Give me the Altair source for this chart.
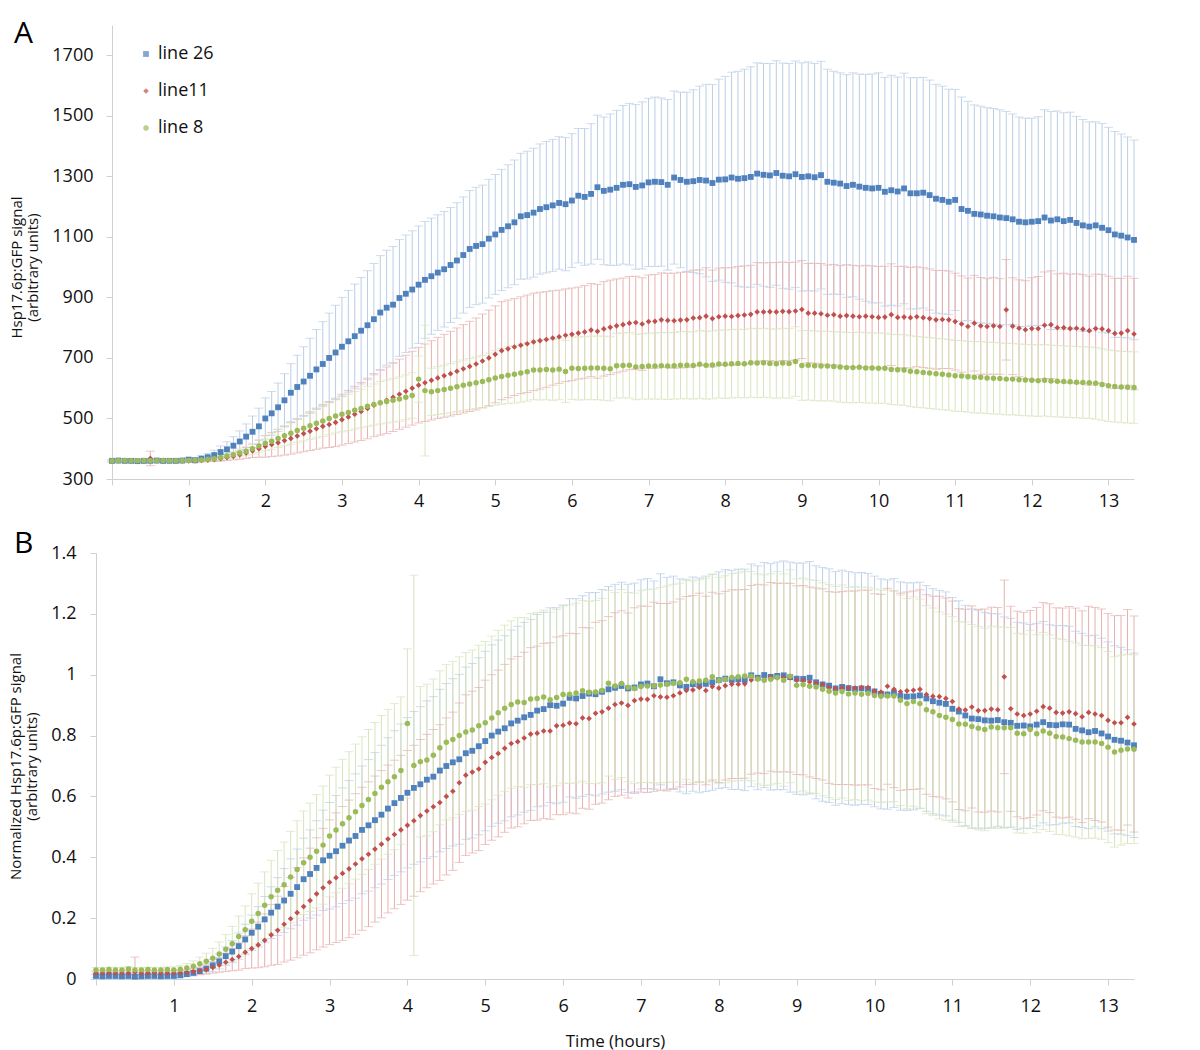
import altair as alt
import pandas as pd

SERIES = ["line 26", "line11", "line 8"]
POINT_COLORS = ["#4F81BD", "#C0504D", "#9BBB59"]
ERR_COLORS = ["#b9cde5", "#e6b0ae", "#d7e4bd"]
SHAPES = ["square", "diamond", "circle"]
SIZES = [34, 30, 34]

N_POINTS = 161
T_MAX = 160 / 12
TIME = [i / 12 for i in range(N_POINTS)]  # 5-minute sampling, hours

# ---------------- Panel A : raw signal ----------------
A_BLUE = [
    360, 361, 360, 360, 359, 360, 360, 361, 360, 360, 360, 361,
    364, 362, 367, 372, 379, 389, 398, 410, 424, 440, 456, 474,
    500, 517, 537, 560, 585, 604, 622, 641, 662, 680, 700, 718,
    737, 755, 772, 790, 808, 828, 850, 866, 876, 898, 912, 926,
    942, 958, 970, 982, 993, 1007, 1022, 1040, 1060, 1070, 1076, 1094,
    1108, 1123, 1135, 1148, 1168, 1172, 1180, 1192, 1198, 1204, 1212, 1208,
    1220, 1236, 1232, 1242, 1264, 1252, 1256, 1262, 1272, 1274, 1265, 1270,
    1280, 1282, 1281, 1272, 1296, 1288, 1282, 1284, 1288, 1286, 1278, 1289,
    1290, 1296, 1292, 1294, 1298, 1309, 1305, 1303, 1311, 1302, 1300, 1307,
    1298, 1300, 1297, 1304, 1282, 1279, 1276, 1268, 1272, 1266, 1262, 1260,
    1262, 1249, 1254, 1250, 1260, 1244, 1244, 1246, 1238, 1226, 1222, 1216,
    1222, 1192, 1186, 1176, 1174, 1170, 1168, 1164, 1162, 1158, 1150, 1148,
    1150, 1152, 1164, 1154, 1158, 1152, 1156, 1146, 1138, 1134, 1138, 1130,
    1122, 1108, 1104, 1098, 1090,
]
A_RED = [
    360, 360, 361, 360, 360, 360, 368, 360, 360, 361, 360, 360,
    360, 360, 361, 362, 364, 367, 371, 375, 380, 386, 393, 400,
    408, 414, 420, 427, 434, 442, 450, 458, 466, 474, 480, 487,
    496, 505, 514, 523, 533, 544, 552, 560, 570, 580, 590, 600,
    610, 618, 626, 634, 641, 648, 656, 664, 672, 680, 690, 700,
    712, 724, 730, 736, 742, 747, 753, 757, 761, 766, 770, 775,
    778, 782, 786, 792, 788, 796, 801, 806, 810, 815, 817, 812,
    820, 821, 826, 824, 823, 825, 826, 832, 833, 838, 830, 836,
    838, 837, 840, 842, 844, 852, 852, 853, 852, 854, 853, 855,
    860, 848, 848, 846, 841, 843, 838, 840, 838, 836, 838, 836,
    834, 835, 843, 834, 835, 833, 836, 833, 830, 826, 827, 826,
    820, 812, 804, 815, 806, 804, 806, 804, 859, 805, 798, 793,
    797, 797, 808, 810, 800, 800, 797, 798, 795, 790, 797, 796,
    790, 781, 782, 790, 779,
]
A_GREEN = [
    360, 360, 361, 360, 360, 361, 360, 360, 361, 360, 360, 361,
    361, 362, 363, 365, 367, 371, 376, 380, 386, 392, 400, 409,
    418, 425, 434, 443, 451, 460, 468, 476, 484, 492, 500, 508,
    514, 520, 527, 533, 540, 546, 552, 556, 560, 564, 570, 576,
    630, 592, 588, 592, 596, 600, 605, 610, 614, 618, 622, 628,
    634, 639, 643, 646, 650, 654, 660, 660, 662, 660, 663, 655,
    666, 665, 666, 667, 667, 666, 664, 674, 675, 676, 670, 672,
    673, 673, 674, 673, 674, 676, 676, 675, 679, 676, 677, 680,
    679, 681, 682, 681, 684, 683, 684, 682, 681, 683, 682, 688,
    675, 676, 674, 673, 673, 672, 670, 668, 668, 669, 667, 667,
    666, 666, 662, 661, 660, 656, 654, 652, 650, 648, 646, 644,
    641, 640, 638, 636, 636, 634, 633, 632, 630, 630, 628, 627,
    626, 625, 626, 624, 623, 622, 621, 620, 619, 618, 616, 612,
    608, 606, 604, 603, 602,
]
A_BLUE_SD = [
    4, 4, 4, 5, 4, 4, 5, 4, 4, 4, 5, 4,
    6, 8, 10, 12, 16, 20, 25, 30, 35, 42, 52, 60,
    68, 72, 80, 88, 96, 105, 115, 124, 132, 140, 148, 156,
    163, 168, 172, 176, 180, 184, 188, 190, 192, 193, 194, 194,
    194, 193, 192, 191, 191, 190, 191, 192, 193, 194, 195, 196,
    198, 200, 203, 206, 208, 211, 213, 215, 217, 218, 219, 220,
    221, 222, 226, 232, 238, 244, 250, 256, 262, 267, 272, 276,
    278, 280, 278, 282, 286, 290, 296, 302, 310, 318, 325, 332,
    340, 348, 355, 360, 364, 366, 368, 370, 371, 372, 373, 374,
    377, 378, 376, 376, 372, 368, 366, 368, 370, 372, 375, 378,
    380, 378, 380, 378, 381, 382, 382, 381, 380, 378, 376, 372,
    365, 370, 362, 360, 358, 357, 356, 356, 352, 348, 346, 344,
    342, 345, 356, 360, 358, 358, 356, 352, 350, 346, 342, 345,
    340, 340, 336, 332, 330,
]
A_RED_SD = [
    3, 3, 3, 4, 3, 3, 24, 3, 3, 3, 3, 3,
    3, 3, 4, 5, 6, 8, 10, 12, 15, 18, 22, 28,
    36, 40, 44, 48, 52, 56, 60, 64, 68, 72, 76, 80,
    84, 88, 92, 96, 100, 104, 107, 110, 113, 116, 119, 122,
    125, 128, 131, 134, 137, 140, 143, 146, 149, 152, 155, 158,
    160, 162, 161, 160, 160, 161, 161, 160, 158, 156, 154, 153,
    153, 152, 153, 154, 155, 156, 156, 155, 154, 154, 153, 153,
    154, 155, 155, 156, 157, 158, 158, 158, 158, 160, 160, 161,
    160, 161, 162, 162, 162, 163, 162, 162, 163, 163, 162, 162,
    162, 164, 165, 166, 166, 166, 167, 168, 168, 168, 168, 168,
    168, 168, 168, 168, 168, 166, 165, 165, 164, 163, 162, 161,
    160, 159, 160, 158, 160, 158, 160, 158, 166, 160, 160, 162,
    168, 172, 176, 178, 178, 180, 180, 180, 180, 180, 180, 180,
    180, 182, 181, 180, 184,
]
A_GREEN_SD = [
    3, 3, 3, 3, 3, 3, 3, 3, 3, 3, 3, 3,
    3, 4, 4, 5, 6, 7, 9, 11, 13, 15, 18, 21,
    24, 27, 30, 33, 36, 39, 42, 45, 48, 51, 54, 56,
    58, 60, 62, 64, 66, 68, 70, 71, 72, 73, 74, 75,
    76, 216, 78, 79, 80, 81, 82, 83, 84, 85, 86, 88,
    90, 92, 94, 95, 96, 97, 98, 99, 100, 100, 101, 102,
    103, 104, 104, 105, 105, 106, 106, 107, 107, 108, 108, 108,
    109, 109, 110, 110, 110, 111, 111, 111, 112, 112, 112, 112,
    113, 113, 113, 113, 114, 114, 114, 114, 114, 115, 115, 115,
    115, 115, 115, 115, 115, 115, 116, 116, 116, 116, 116, 116,
    116, 116, 116, 116, 117, 117, 117, 117, 117, 117, 117, 117,
    117, 117, 117, 118, 118, 118, 118, 118, 118, 118, 118, 118,
    118, 118, 118, 118, 118, 118, 118, 118, 118, 118, 118, 118,
    118, 118, 118, 118, 118,
]

# ---------------- Panel B : normalized signal ----------------
B_BLUE = [
    0.010, 0.009, 0.010, 0.010, 0.009, 0.010, 0.008, 0.009, 0.010, 0.010, 0.009, 0.010,
    0.010, 0.012, 0.016, 0.020, 0.026, 0.034, 0.045, 0.058, 0.075, 0.090, 0.108, 0.130,
    0.152, 0.172, 0.196, 0.218, 0.238, 0.258, 0.280, 0.302, 0.328, 0.345, 0.365, 0.390,
    0.405, 0.420, 0.438, 0.455, 0.470, 0.490, 0.505, 0.522, 0.540, 0.560, 0.578, 0.595,
    0.612, 0.628, 0.640, 0.655, 0.665, 0.685, 0.700, 0.712, 0.722, 0.742, 0.750, 0.765,
    0.782, 0.800, 0.813, 0.824, 0.840, 0.849, 0.860, 0.868, 0.882, 0.887, 0.900, 0.898,
    0.905, 0.924, 0.922, 0.930, 0.938, 0.936, 0.944, 0.952, 0.957, 0.963, 0.955, 0.958,
    0.968, 0.971, 0.962, 0.985, 0.972, 0.975, 0.965, 0.960, 0.969, 0.965, 0.970, 0.975,
    0.982, 0.987, 0.983, 0.985, 0.983, 0.998, 0.990, 0.999, 0.993, 0.996, 0.998, 0.992,
    0.987, 0.986, 0.990, 0.975, 0.968, 0.964, 0.955, 0.960, 0.956, 0.953, 0.955, 0.953,
    0.945, 0.937, 0.935, 0.940, 0.930, 0.928, 0.929, 0.932, 0.922, 0.913, 0.908, 0.904,
    0.888, 0.879, 0.866, 0.856, 0.854, 0.850, 0.849, 0.851, 0.844, 0.842, 0.832, 0.833,
    0.830, 0.836, 0.844, 0.835, 0.834, 0.837, 0.836, 0.822, 0.817, 0.811, 0.815, 0.807,
    0.797, 0.786, 0.783, 0.777, 0.768,
]
B_RED = [
    0.020, 0.020, 0.021, 0.020, 0.020, 0.020, 0.022, 0.020, 0.020, 0.021, 0.020, 0.020,
    0.020, 0.021, 0.022, 0.024, 0.027, 0.031, 0.038, 0.046, 0.055, 0.064, 0.074, 0.088,
    0.100, 0.112, 0.127, 0.145, 0.160, 0.180, 0.198, 0.218, 0.238, 0.258, 0.280, 0.300,
    0.318, 0.333, 0.347, 0.362, 0.378, 0.395, 0.410, 0.427, 0.443, 0.460, 0.475, 0.490,
    0.505, 0.520, 0.537, 0.552, 0.566, 0.580, 0.600, 0.617, 0.645, 0.670, 0.680, 0.690,
    0.712, 0.728, 0.741, 0.758, 0.774, 0.780, 0.792, 0.805, 0.808, 0.815, 0.815, 0.832,
    0.834, 0.841, 0.839, 0.858, 0.856, 0.873, 0.878, 0.890, 0.902, 0.907, 0.899, 0.915,
    0.920, 0.919, 0.931, 0.927, 0.926, 0.931, 0.940, 0.948, 0.950, 0.958, 0.948, 0.961,
    0.956, 0.964, 0.969, 0.969, 0.970, 0.983, 0.987, 0.985, 0.993, 0.990, 0.991, 0.990,
    0.982, 0.982, 0.976, 0.972, 0.968, 0.958, 0.955, 0.956, 0.957, 0.956, 0.958, 0.958,
    0.946, 0.943, 0.962, 0.952, 0.944, 0.947, 0.949, 0.952, 0.935, 0.929, 0.928, 0.922,
    0.912, 0.887, 0.884, 0.894, 0.882, 0.882, 0.887, 0.885, 0.993, 0.888, 0.871, 0.866,
    0.871, 0.880, 0.895, 0.890, 0.876, 0.874, 0.878, 0.872, 0.862, 0.876, 0.871, 0.866,
    0.850, 0.842, 0.842, 0.860, 0.838,
]
B_GREEN = [
    0.030, 0.030, 0.031, 0.030, 0.030, 0.033, 0.030, 0.030, 0.031, 0.030, 0.030, 0.031,
    0.030, 0.032, 0.036, 0.042, 0.050, 0.058, 0.068, 0.082, 0.098, 0.116, 0.140, 0.162,
    0.190, 0.215, 0.242, 0.270, 0.292, 0.310, 0.335, 0.360, 0.382, 0.400, 0.420, 0.440,
    0.470, 0.490, 0.510, 0.530, 0.550, 0.570, 0.590, 0.610, 0.630, 0.648, 0.665, 0.685,
    0.840, 0.702, 0.714, 0.720, 0.735, 0.760, 0.778, 0.787, 0.800, 0.812, 0.818, 0.832,
    0.842, 0.858, 0.875, 0.890, 0.902, 0.910, 0.909, 0.920, 0.922, 0.927, 0.918, 0.925,
    0.935, 0.936, 0.940, 0.947, 0.942, 0.943, 0.948, 0.972, 0.963, 0.971, 0.959, 0.955,
    0.961, 0.963, 0.963, 0.966, 0.969, 0.972, 0.974, 0.985, 0.977, 0.979, 0.982, 0.993,
    0.981, 0.985, 0.991, 0.993, 0.996, 0.995, 0.986, 0.982, 0.985, 0.991, 0.982, 0.995,
    0.965, 0.968, 0.962, 0.960, 0.952, 0.946, 0.940, 0.945, 0.937, 0.940, 0.936, 0.938,
    0.932, 0.929, 0.930, 0.930, 0.916, 0.905, 0.912, 0.905, 0.885, 0.878, 0.866, 0.860,
    0.853, 0.838, 0.837, 0.830, 0.824, 0.820, 0.828, 0.826, 0.826, 0.826, 0.808, 0.806,
    0.820, 0.806, 0.815, 0.808, 0.797, 0.795, 0.790, 0.785, 0.779, 0.779, 0.779, 0.774,
    0.762, 0.746, 0.752, 0.756, 0.755,
]
B_BLUE_SD = [
    0.005, 0.005, 0.005, 0.005, 0.005, 0.005, 0.005, 0.005, 0.005, 0.005, 0.005, 0.005,
    0.006, 0.007, 0.008, 0.010, 0.012, 0.015, 0.020, 0.025, 0.030, 0.036, 0.043, 0.050,
    0.058, 0.066, 0.075, 0.085, 0.095, 0.105, 0.115, 0.125, 0.135, 0.145, 0.155, 0.165,
    0.175, 0.183, 0.190, 0.197, 0.204, 0.210, 0.216, 0.222, 0.228, 0.233, 0.238, 0.243,
    0.247, 0.251, 0.255, 0.259, 0.263, 0.267, 0.271, 0.275, 0.279, 0.283, 0.287, 0.291,
    0.295, 0.298, 0.301, 0.304, 0.307, 0.310, 0.312, 0.314, 0.316, 0.318, 0.320, 0.322,
    0.324, 0.326, 0.328, 0.330, 0.332, 0.334, 0.336, 0.338, 0.340, 0.341, 0.342, 0.343,
    0.344, 0.345, 0.346, 0.347, 0.348, 0.349, 0.350, 0.351, 0.352, 0.353, 0.354, 0.355,
    0.356, 0.358, 0.360, 0.362, 0.364, 0.366, 0.368, 0.370, 0.372, 0.374, 0.376, 0.378,
    0.380, 0.381, 0.382, 0.383, 0.384, 0.384, 0.384, 0.384, 0.383, 0.382, 0.381, 0.380,
    0.379, 0.378, 0.377, 0.376, 0.375, 0.374, 0.373, 0.372, 0.371, 0.370, 0.369, 0.368,
    0.366, 0.364, 0.362, 0.360, 0.358, 0.355, 0.352, 0.349, 0.346, 0.343, 0.340, 0.337,
    0.335, 0.333, 0.331, 0.329, 0.327, 0.325, 0.323, 0.321, 0.319, 0.317, 0.315, 0.313,
    0.311, 0.309, 0.307, 0.305, 0.303,
]
B_RED_SD = [
    0.006, 0.006, 0.006, 0.006, 0.006, 0.006, 0.050, 0.006, 0.006, 0.006, 0.006, 0.006,
    0.006, 0.007, 0.008, 0.010, 0.012, 0.015, 0.019, 0.024, 0.030, 0.037, 0.045, 0.054,
    0.064, 0.075, 0.087, 0.100, 0.112, 0.124, 0.136, 0.148, 0.160, 0.172, 0.184, 0.195,
    0.205, 0.213, 0.220, 0.226, 0.231, 0.235, 0.238, 0.240, 0.242, 0.243, 0.244, 0.245,
    0.246, 0.248, 0.250, 0.252, 0.254, 0.256, 0.258, 0.260, 0.262, 0.264, 0.266, 0.268,
    0.270, 0.272, 0.274, 0.276, 0.278, 0.280, 0.282, 0.284, 0.286, 0.288, 0.290, 0.292,
    0.294, 0.295, 0.296, 0.297, 0.298, 0.299, 0.300, 0.301, 0.302, 0.303, 0.304, 0.305,
    0.306, 0.306, 0.307, 0.307, 0.308, 0.308, 0.309, 0.309, 0.310, 0.310, 0.310, 0.310,
    0.310, 0.310, 0.310, 0.310, 0.310, 0.310, 0.310, 0.310, 0.310, 0.310, 0.310, 0.310,
    0.310, 0.311, 0.312, 0.313, 0.314, 0.315, 0.316, 0.317, 0.318, 0.319, 0.320, 0.320,
    0.320, 0.321, 0.322, 0.323, 0.324, 0.325, 0.326, 0.327, 0.328, 0.329, 0.330, 0.330,
    0.330, 0.330, 0.331, 0.332, 0.333, 0.334, 0.335, 0.336, 0.318, 0.337, 0.338, 0.339,
    0.340, 0.341, 0.342, 0.343, 0.344, 0.345, 0.346, 0.347, 0.348, 0.349, 0.350, 0.350,
    0.351, 0.352, 0.353, 0.354, 0.355,
]
B_GREEN_SD = [
    0.008, 0.008, 0.008, 0.008, 0.008, 0.008, 0.008, 0.008, 0.008, 0.008, 0.008, 0.008,
    0.010, 0.012, 0.015, 0.018, 0.022, 0.027, 0.033, 0.040, 0.048, 0.057, 0.067, 0.078,
    0.090, 0.100, 0.110, 0.120, 0.130, 0.140, 0.150, 0.160, 0.170, 0.178, 0.186, 0.194,
    0.200, 0.206, 0.212, 0.217, 0.222, 0.226, 0.230, 0.233, 0.236, 0.238, 0.240, 0.242,
    0.245, 0.625, 0.247, 0.249, 0.251, 0.253, 0.255, 0.257, 0.259, 0.261, 0.263, 0.265,
    0.267, 0.269, 0.271, 0.273, 0.275, 0.277, 0.279, 0.281, 0.283, 0.285, 0.287, 0.289,
    0.291, 0.293, 0.295, 0.297, 0.299, 0.301, 0.303, 0.305, 0.307, 0.309, 0.311, 0.313,
    0.315, 0.317, 0.319, 0.321, 0.323, 0.325, 0.327, 0.329, 0.331, 0.333, 0.335, 0.337,
    0.339, 0.340, 0.341, 0.342, 0.343, 0.344, 0.345, 0.346, 0.347, 0.348, 0.349, 0.350,
    0.350, 0.350, 0.350, 0.350, 0.350, 0.350, 0.350, 0.350, 0.350, 0.350, 0.350, 0.350,
    0.350, 0.349, 0.348, 0.347, 0.346, 0.345, 0.344, 0.343, 0.342, 0.341, 0.340, 0.339,
    0.338, 0.337, 0.336, 0.335, 0.334, 0.333, 0.332, 0.331, 0.330, 0.329, 0.328, 0.327,
    0.326, 0.325, 0.324, 0.323, 0.322, 0.321, 0.320, 0.319, 0.318, 0.317, 0.316, 0.315,
    0.314, 0.313, 0.312, 0.311, 0.310,
]

A_YTICKS = [300, 500, 700, 900, 1100, 1300, 1500, 1700]
B_YTICKS = [0, 0.2, 0.4, 0.6, 0.8, 1, 1.2, 1.4]
X_TICKS = list(range(14))

FONT = "Open Sans"
AXIS_GREY = "#d0d0d0"
PLOT_W = 1022


def build_frame(means, sds, floor=None):
    rows = []
    for name, vals, errs, ecol in zip(SERIES, means, sds, ERR_COLORS):
        assert len(vals) == N_POINTS and len(errs) == N_POINTS, name
        for t, v, e in zip(TIME, vals, errs):
            lo = v - e if floor is None else max(v - e, floor)
            rows.append({"t": t, "s": name, "v": v, "lo": lo, "hi": v + e, "ecol": ecol})
    return pd.DataFrame(rows)


df_a = build_frame([A_BLUE, A_RED, A_GREEN], [A_BLUE_SD, A_RED_SD, A_GREEN_SD])
df_b = build_frame([B_BLUE, B_RED, B_GREEN], [B_BLUE_SD, B_RED_SD, B_GREEN_SD], floor=0)


def panel(df, height, xrange, ydomain, yticks, yfmt, ytitle, ytitle_y, y_offset,
          ylabpad, ytitlepad, xtitle, xlabpad, letter, letter_dy, with_legend):
    xaxis_kw = dict(values=X_TICKS, labelExpr="datum.value == 0 ? '' : datum.label",
                    tickSize=6, labelPadding=xlabpad, labelFontSize=18, grid=False)
    if xtitle:
        xaxis_kw.update(titleFontSize=17, titleFontWeight="normal", titlePadding=18)

    def xenc():
        return alt.X("t:Q", scale=alt.Scale(domain=[0, T_MAX], range=xrange,
                                            nice=False, zero=False),
                     axis=alt.Axis(**xaxis_kw), title=xtitle if xtitle else None)

    yaxis_kw = dict(values=yticks, format=yfmt, tickSize=6, labelPadding=ylabpad,
                    labelFontSize=18, titleFontSize=15, titleFontWeight="normal",
                    titlePadding=ytitlepad, titleLineHeight=16, grid=False,
                    offset=y_offset)
    if ytitle_y is not None:
        yaxis_kw["titleY"] = ytitle_y
    yaxis = alt.Axis(**yaxis_kw)

    def yenc(field):
        return alt.Y(field, scale=alt.Scale(domain=ydomain, nice=False, zero=False),
                     axis=yaxis, title=ytitle)

    base = alt.Chart(df)
    ecolor = alt.Color("ecol:N", scale=None)
    bars = base.mark_rule(strokeWidth=1, clip=False).encode(
        x=xenc(), y=yenc("lo:Q"), y2="hi:Q", color=ecolor)
    cap_hi = base.mark_tick(orient="horizontal", size=9, thickness=1, clip=False).encode(
        x=xenc(), y=yenc("hi:Q"), color=ecolor)
    cap_lo = base.mark_tick(orient="horizontal", size=9, thickness=1, clip=False).encode(
        x=xenc(), y=yenc("lo:Q"), color=ecolor)

    if with_legend:
        leg = alt.Legend(orient="none", legendX=25, legendY=20, title=None,
                         labelFontSize=18, labelFont=FONT, labelColor="#111111",
                         symbolSize=22, rowPadding=19, labelOffset=3,
                         symbolStrokeWidth=0)
        color = alt.Color("s:N", scale=alt.Scale(domain=SERIES, range=POINT_COLORS),
                          sort=SERIES, legend=leg)
        shape = alt.Shape("s:N", scale=alt.Scale(domain=SERIES, range=SHAPES),
                          sort=SERIES, legend=leg)
    else:
        color = alt.Color("s:N", scale=alt.Scale(domain=SERIES, range=POINT_COLORS),
                          legend=None)
        shape = alt.Shape("s:N", scale=alt.Scale(domain=SERIES, range=SHAPES),
                          legend=None)
    pts = base.mark_point(filled=True, opacity=1, strokeWidth=0, clip=False).encode(
        x=xenc(), y=yenc("v:Q"), color=color, shape=shape,
        size=alt.Size("s:N", scale=alt.Scale(domain=SERIES, range=SIZES), legend=None),
    )

    return alt.layer(bars, cap_hi, cap_lo, pts).properties(
        width=PLOT_W, height=height,
        title=alt.TitleParams(text=letter, anchor="start", frame="group", orient="top",
                              fontSize=30, fontWeight="normal", font=FONT,
                              color="#000000", offset=0, dx=-98, dy=letter_dy,
                              baseline="alphabetic"),
    )


chart_a = panel(df_a, 454, [0, PLOT_W], [300, 1800], A_YTICKS, "d",
                ["Hsp17.6p:GFP signal", "(arbitrary units)"], 242, 0, 13, 11,
                None, 7, "A", 48, True)
chart_b = panel(df_b, 426, [-16, PLOT_W], [0, 1.4], B_YTICKS, "~g",
                ["Normalized Hsp17.6p:GFP signal", "(arbitrary units)"], None, 16, 14, 11,
                "Time (hours)", 12, "B", 39, False)

chart = alt.concat(chart_a, chart_b, columns=1, spacing=19).resolve_scale(
    color="independent", shape="independent", size="independent"
).resolve_legend(
    color="independent", shape="independent", size="independent"
).properties(
    padding={"left": 0, "top": 11, "right": 5, "bottom": 3}
).configure_view(stroke=None).configure_axis(
    labelFont=FONT, titleFont=FONT, labelColor="#111111", titleColor="#111111",
    domainColor=AXIS_GREY, tickColor=AXIS_GREY, domainWidth=1, tickWidth=1,
)

chart.save("out.html", embed_options={"renderer": "svg", "actions": False})
